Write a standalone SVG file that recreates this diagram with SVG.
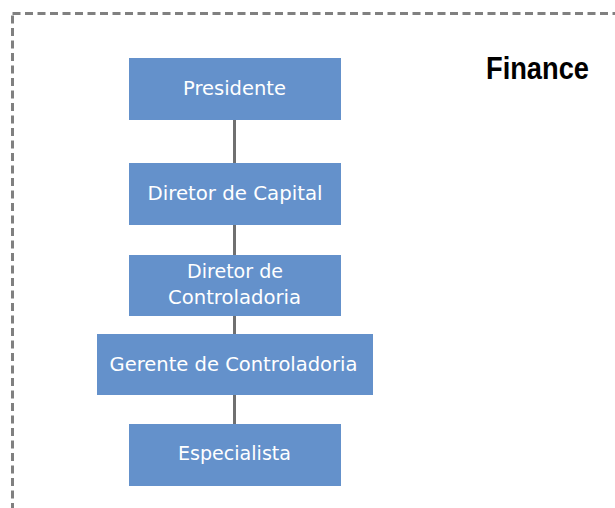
<svg xmlns="http://www.w3.org/2000/svg" width="615" height="508" viewBox="0 0 615 508">
<style>
.box{fill:#6491CB}
.lbl{font-family:"DejaVu Sans","Liberation Sans",sans-serif;font-size:19px;fill:#ffffff;text-anchor:start}
.conn{stroke:#707070;stroke-width:3;fill:none}
</style>
<rect width="615" height="508" fill="#ffffff"/>
<rect x="12.5" y="13.5" width="640" height="540" fill="none" stroke="#808080" stroke-width="3" stroke-dasharray="8 4.5"/>
<text x="486" y="79" font-family="'Liberation Sans',Arial,sans-serif" font-size="31" font-weight="bold" fill="#000000" textLength="103" lengthAdjust="spacingAndGlyphs">Finance</text>
<g id="connectors">
<line class="conn" x1="234.5" y1="120" x2="234.5" y2="163"/>
<line class="conn" x1="234.5" y1="224" x2="234.5" y2="255"/>
<line class="conn" x1="234.5" y1="315" x2="234.5" y2="334"/>
<line class="conn" x1="234.5" y1="394" x2="234.5" y2="424"/>
</g>
<g id="presidente">
<rect class="box" x="129" y="58" width="212" height="62"/>
<text class="lbl" x="183" y="95" textLength="103" lengthAdjust="spacingAndGlyphs" font-size="18">Presidente</text>
</g>
<g id="diretor-capital">
<rect class="box" x="129" y="163" width="212" height="62"/>
<text class="lbl" x="147.5" y="200" textLength="175" lengthAdjust="spacingAndGlyphs">Diretor de Capital</text>
</g>
<g id="diretor-controladoria">
<rect class="box" x="129" y="255" width="212" height="61"/>
<text class="lbl" x="187" y="278" textLength="96" lengthAdjust="spacingAndGlyphs">Diretor de</text>
<text class="lbl" x="168" y="304" textLength="133" lengthAdjust="spacingAndGlyphs">Controladoria</text>
</g>
<g id="gerente-controladoria">
<rect class="box" x="97" y="334" width="276" height="61"/>
<text class="lbl" x="109.5" y="371" textLength="248" lengthAdjust="spacingAndGlyphs">Gerente de Controladoria</text>
</g>
<g id="especialista">
<rect class="box" x="129" y="424" width="212" height="62"/>
<text class="lbl" x="178" y="460" textLength="113" lengthAdjust="spacingAndGlyphs">Especialista</text>
</g>
</svg>
